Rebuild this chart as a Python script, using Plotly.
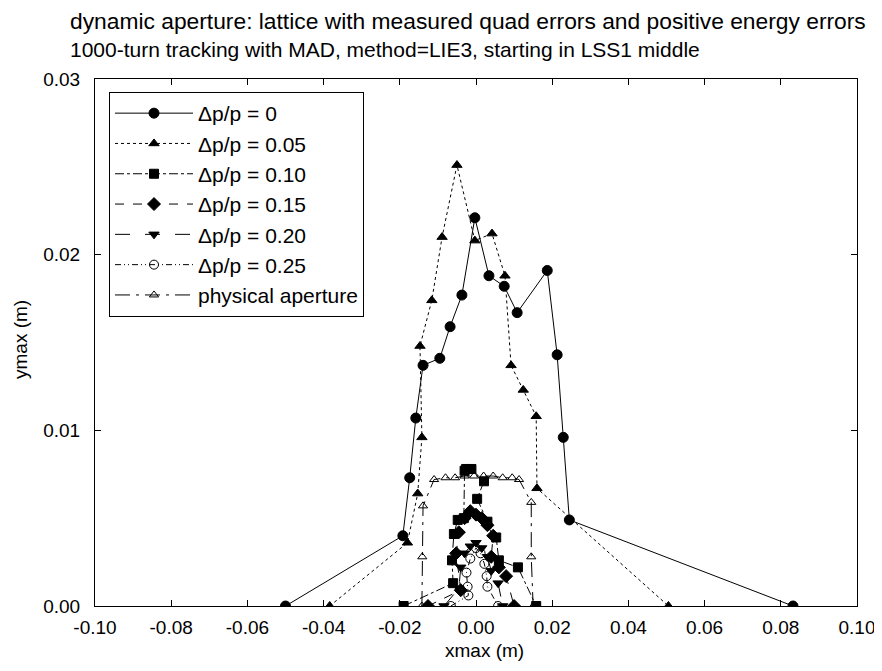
import plotly.graph_objects as go

# ---- data ----
x_dp000 = [-0.050, -0.0192, -0.0174, -0.0158, -0.0139, -0.0095, -0.0068, -0.0037, -0.0003,
           0.0034, 0.0074, 0.0108, 0.0187, 0.0213, 0.0229, 0.0245, 0.0832]
y_dp000 = [0.0, 0.0040, 0.0073, 0.0107, 0.0137, 0.0141, 0.0159, 0.0177, 0.0221,
           0.0188, 0.0182, 0.0167, 0.0191, 0.0143, 0.0096, 0.0049, 0.0]

x_dp005 = [-0.0384, -0.0180, -0.0153, -0.0142, -0.0147, -0.0116, -0.0089, -0.0050, -0.0003,
           0.0042, 0.0076, 0.0092, 0.0124, 0.0158, 0.0160, 0.0505]
y_dp005 = [0.0, 0.0036, 0.0064, 0.0096, 0.0148, 0.0174, 0.0210, 0.0251, 0.0208,
           0.0212, 0.0188, 0.0137, 0.0123, 0.0108, 0.0067, 0.0]

x_dp010 = [-0.0190, -0.0060, -0.0063, -0.0058, -0.0048, -0.0032, -0.0030, -0.0026, -0.0012,
           0.0021, 0.0003, 0.0030, 0.0053, 0.0060, 0.0110, 0.0158]
y_dp010 = [0.0, 0.0013, 0.0026, 0.0041, 0.0049, 0.0050, 0.0077, 0.0078, 0.0078,
           0.0071, 0.0061, 0.0048, 0.0039, 0.0026, 0.0022, 0.0]

x_dp015 = [-0.0126, -0.0040, -0.0052, -0.0045, -0.0030, -0.0015, 0.0000, 0.0015, 0.0030,
           0.0045, 0.0040, 0.0060, 0.0079, 0.0100]
y_dp015 = [0.0, 0.0009, 0.0030, 0.0042, 0.0050, 0.0054, 0.0052, 0.0050, 0.0046,
           0.0040, 0.0028, 0.0022, 0.0017, 0.0]

x_dp020 = [-0.0084, -0.0045, -0.0040, -0.0030, -0.0015, 0.0000, 0.0015, 0.0030, 0.0040,
           0.0058, 0.0070]
y_dp020 = [0.0, 0.0010, 0.0022, 0.0030, 0.0034, 0.0036, 0.0033, 0.0028, 0.0020,
           0.0013, 0.0]

x_dp025 = [-0.0066, -0.0020, -0.0022, -0.0025, -0.0015, 0.0000, 0.0012, 0.0022, 0.0028,
           0.0030, 0.0058]
y_dp025 = [0.0, 0.0006, 0.0011, 0.0019, 0.0027, 0.0033, 0.0030, 0.0024, 0.0017,
           0.0011, 0.0]

x_phys = [-0.0142, -0.0141, -0.0139, -0.0110, -0.0080, -0.0055, -0.0030, -0.0005, 0.0020,
          0.0045, 0.0070, 0.0095, 0.0113, 0.0145, 0.0145, 0.0150]
y_phys = [0.0, 0.0028, 0.0057, 0.0072, 0.0073, 0.0073, 0.0074, 0.0074, 0.0074,
          0.0074, 0.0073, 0.0073, 0.0072, 0.0059, 0.0028, 0.0]

names = ["\u0394p/p = 0", "\u0394p/p = 0.05", "\u0394p/p = 0.10", "\u0394p/p = 0.15",
         "\u0394p/p = 0.20", "\u0394p/p = 0.25", "physical aperture"]

x_ticks = [-0.10, -0.08, -0.06, -0.04, -0.02, 0.00, 0.02, 0.04, 0.06, 0.08, 0.10]
x_tick_text = ["-0.10", "-0.08", "-0.06", "-0.04", "-0.02", "0.00", "0.02", "0.04", "0.06", "0.08", "0.10"]
y_ticks = [0.00, 0.01, 0.02, 0.03]
y_tick_text = ["0.00", "0.01", "0.02", "0.03"]

title_1 = "dynamic aperture: lattice with measured quad errors and positive energy errors"
title_2 = "1000-turn tracking with MAD, method=LIE3, starting in LSS1 middle"

series = [
    (x_dp000, y_dp000, "solid", "circle", 10),
    (x_dp005, y_dp005, "dot", "triangle-up", 9),
    (x_dp010, y_dp010, "dashdot", "square", 9),
    (x_dp015, y_dp015, "dash", "diamond", 10),
    (x_dp020, y_dp020, "longdash", "triangle-down", 9),
    (x_dp025, y_dp025, "6px,3px,1px,3px,1px,3px", "circle-open", 9),
    (x_phys, y_phys, "longdashdot", "triangle-up-open", 8),
]

fig = go.Figure()
for (xs, ys, dash, sym, size), nm in zip(series, names):
    fig.add_trace(go.Scatter(
        x=xs, y=ys, name=nm, mode="lines+markers",
        line=dict(color="black", width=1, dash=dash),
        marker=dict(symbol=sym, size=size, color="black",
                    line=dict(color="black", width=1)),
    ))

FONT = "Liberation Sans, Arial, sans-serif"
OFF = 8  # page body margin offsets the figure by 8px
W, H = 882 - OFF, 671 - OFF
# plot area in screen pixels: x 95..857, y 79..606
L, T = 95 - OFF, 79 - OFF
R, B = W - (857 - OFF), H - (606 - OFF)
PW, PH = W - L - R, H - T - B


def px_x(p):
    return (p - OFF - L) / PW


def px_y(p):
    return (H - B - (p - OFF)) / PH


fig.update_layout(
    width=W, height=H,
    margin=dict(l=L, r=R, t=T, b=B, autoexpand=False),
    paper_bgcolor="white", plot_bgcolor="white",
    font=dict(family=FONT, size=19, color="black"),
    showlegend=True,
    legend=dict(x=px_x(109), y=px_y(92), xanchor="left", yanchor="top",
                bgcolor="white", bordercolor="black", borderwidth=1,
                font=dict(size=21), itemwidth=78, tracegroupgap=0),
    xaxis=dict(range=[-0.10, 0.10], tickvals=x_ticks, ticktext=x_tick_text,
               ticks="inside", ticklen=6, tickcolor="black", ticklabelstandoff=4,
               showline=True, linecolor="black", linewidth=1, mirror="ticks",
               showgrid=False, zeroline=False, automargin=False),
    yaxis=dict(range=[0.0, 0.03], tickvals=y_ticks, ticktext=y_tick_text,
               ticks="inside", ticklen=6, tickcolor="black", ticklabelstandoff=10,
               showline=True, linecolor="black", linewidth=1, mirror="ticks",
               showgrid=False, zeroline=False, automargin=False),
)

fig.add_annotation(text=title_1, xref="paper", yref="paper", x=px_x(68), y=px_y(21),
                   xanchor="left", yanchor="middle", showarrow=False,
                   font=dict(size=22.8, family=FONT))
fig.add_annotation(text=title_2, xref="paper", yref="paper", x=px_x(68), y=px_y(49),
                   xanchor="left", yanchor="middle", showarrow=False,
                   font=dict(size=21, family=FONT))
fig.add_annotation(text="xmax (m)", xref="paper", yref="paper", x=px_x(484), y=px_y(650),
                   xanchor="center", yanchor="middle", showarrow=False,
                   font=dict(size=19, family=FONT))
fig.add_annotation(text="ymax (m)", xref="paper", yref="paper", x=px_x(20), y=px_y(340),
                   xanchor="center", yanchor="middle", showarrow=False, textangle=-90,
                   font=dict(size=19, family=FONT))

fig.write_html("out.html")
